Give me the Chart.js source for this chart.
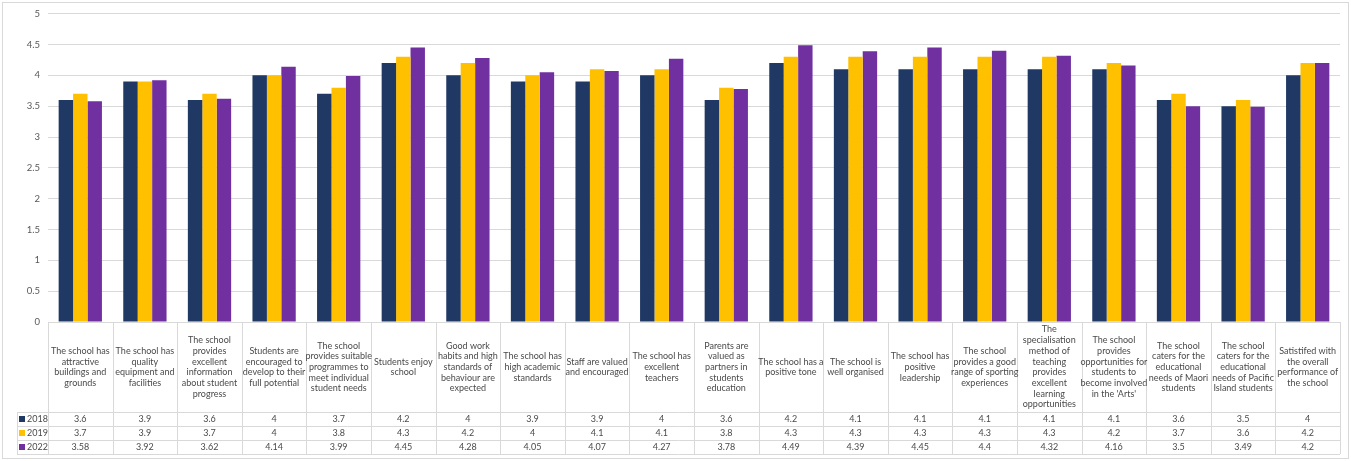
<!DOCTYPE html>
<html>
<head>
<meta charset="utf-8">
<script src="https://cdn.jsdelivr.net/npm/chart.js@4/dist/chart.umd.min.js"></script>
<style>
  body { margin: 0; background: #fff; }
  #wrap { width: 1351px; height: 461px; position: relative; }
</style>
</head>
<body>
<div id="wrap"><canvas id="chart"></canvas></div>
<script>
// categories, with the line breaks used in the data table
const categories = [
  ["The school has", "attractive", "buildings and", "grounds"],
  ["The school has", "quality", "equipment and", "facilities"],
  ["The school", "provides", "excellent", "information", "about student", "progress"],
  ["Students are", "encouraged to", "develop to their", "full potential"],
  ["The school", "provides suitable", "programmes to", "meet individual", "student needs"],
  ["Students enjoy", "school"],
  ["Good work", "habits and high", "standards of", "behaviour are", "expected"],
  ["The school has", "high academic", "standards"],
  ["Staff are valued", "and encouraged"],
  ["The school has", "excellent", "teachers"],
  ["Parents are", "valued as", "partners in", "students", "education"],
  ["The school has a", "positive tone"],
  ["The school is", "well organised"],
  ["The school has", "positive", "leadership"],
  ["The school", "provides a good", "range of sporting", "experiences"],
  ["The", "specialisation", "method of", "teaching", "provides", "excellent", "learning", "opportunities"],
  ["The school", "provides", "opportunities for", "students to", "become involved", "in the 'Arts'"],
  ["The school", "caters for the", "educational", "needs of Maori", "students"],
  ["The school", "caters for the", "educational", "needs of Pacific", "Island students"],
  ["Satistifed with", "the overall", "performance of", "the school"]
];

const years = ["2018", "2019", "2022"];
const values2018 = [3.6, 3.9, 3.6, 4, 3.7, 4.2, 4, 3.9, 3.9, 4, 3.6, 4.2, 4.1, 4.1, 4.1, 4.1, 4.1, 3.6, 3.5, 4];
const values2019 = [3.7, 3.9, 3.7, 4, 3.8, 4.3, 4.2, 4, 4.1, 4.1, 3.8, 4.3, 4.3, 4.3, 4.3, 4.3, 4.2, 3.7, 3.6, 4.2];
const values2022 = [3.58, 3.92, 3.62, 4.14, 3.99, 4.45, 4.28, 4.05, 4.07, 4.27, 3.78, 4.49, 4.39, 4.45, 4.4, 4.32, 4.16, 3.5, 3.49, 4.2];
const colors = ["#1f3864", "#ffc000", "#7030a0"];

const gridColor = "#d9d9d9";
const textColor = "#4a4a4a";
const fontFamily = "Lato, 'Liberation Sans', sans-serif";

// draws the data table under the plot, lined up with the x scale
const dataTable = {
  id: "dataTable",
  afterDraw(chart) {
    const ctx = chart.ctx;
    const x = chart.scales.x;
    const area = chart.chartArea;
    const n = categories.length;
    const w = (area.right - area.left) / n;
    const top = area.bottom;
    const headBottom = top + 90;
    const rowH = 14;
    const legendLeft = 17;
    const series = [values2018, values2019, values2022];
    const tableBottom = headBottom + rowH * series.length;

    ctx.save();
    ctx.strokeStyle = gridColor;
    ctx.lineWidth = 1;
    ctx.beginPath();
    // horizontal lines
    ctx.moveTo(area.left, top + 0.5); ctx.lineTo(area.right, top + 0.5);
    for (let r = 0; r <= series.length; r++) {
      const y = Math.round(headBottom + r * rowH) + 0.5;
      ctx.moveTo(legendLeft, y); ctx.lineTo(area.right, y);
    }
    // vertical lines
    for (let i = 0; i <= n; i++) {
      const xx = Math.round(area.left + i * w) + 0.5;
      ctx.moveTo(xx, top); ctx.lineTo(xx, tableBottom);
    }
    ctx.moveTo(legendLeft + 0.5, headBottom); ctx.lineTo(legendLeft + 0.5, tableBottom);
    ctx.stroke();

    // outer chart border
    ctx.strokeRect(2.5, 2.5, chart.width - 5, chart.height - 5);

    ctx.fillStyle = textColor;
    ctx.font = "9px " + fontFamily;
    ctx.textAlign = "center";
    ctx.textBaseline = "middle";
    const lineH = 10.7;
    categories.forEach((lines, i) => {
      const cx = x.getPixelForValue(i);
      const startY = (top + headBottom) / 2 - (lines.length - 1) * lineH / 2;
      lines.forEach((t, k) => ctx.fillText(t, cx, startY + k * lineH));
      series.forEach((vals, r) => {
        ctx.fillText(String(vals[i]), cx, headBottom + r * rowH + rowH / 2 + 0.5);
      });
    });

    // legend keys in the row headers
    ctx.textAlign = "left";
    years.forEach((yr, r) => {
      const cy = headBottom + r * rowH + rowH / 2;
      ctx.fillStyle = colors[r];
      ctx.fillRect(19, cy - 3, 6, 6);
      ctx.fillStyle = textColor;
      ctx.fillText(yr, 27, cy + 0.5);
    });
    ctx.restore();
  }
};

new Chart(document.getElementById("chart"), {
  type: "bar",
  data: {
    labels: categories.map(c => c.join(" ")),
    datasets: [
      { label: years[0], data: values2018, backgroundColor: colors[0] },
      { label: years[1], data: values2019, backgroundColor: colors[1] },
      { label: years[2], data: values2022, backgroundColor: colors[2] }
    ]
  },
  options: {
    responsive: true,
    maintainAspectRatio: false,
    animation: false,
    layout: { padding: { top: 3, right: 11, bottom: 139, left: 0 } },
    datasets: { bar: { categoryPercentage: 0.67, barPercentage: 1 } },
    plugins: {
      legend: { display: false },
      tooltip: { enabled: false }
    },
    scales: {
      x: {
        ticks: { display: false },
        grid: { display: false, drawTicks: false },
        border: { display: false },
        afterFit(scale) { scale.height = 0; }
      },
      y: {
        min: 0,
        max: 5,
        ticks: {
          stepSize: 0.5,
          color: "#595959",
          font: { family: fontFamily, size: 9.5 },
          padding: 8,
          callback: v => String(v)
        },
        grid: { color: gridColor, drawTicks: false },
        border: { display: false },
        afterFit(scale) { scale.width = 48; }
      }
    }
  },
  plugins: [dataTable]
});
</script>
</body>
</html>
